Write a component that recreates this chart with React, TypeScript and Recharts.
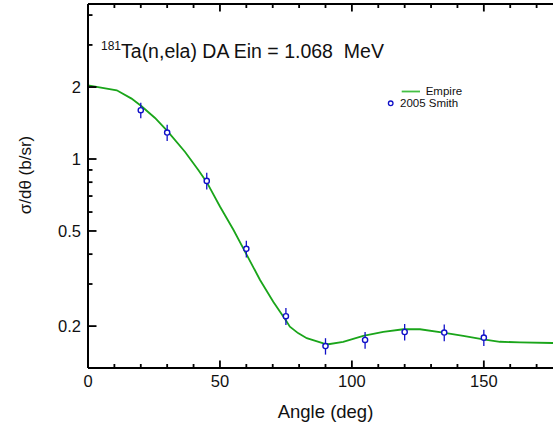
import { ComposedChart, Line, Scatter, XAxis, YAxis, ErrorBar, ReferenceLine } from "recharts"

// Empire calculation
const empireAngle = [0, 10.9, 16.5, 20.3, 25.4, 30.2, 36.8, 41.8, 45, 50, 55.1, 59.8, 65.2, 70.2, 74.9, 76.5, 79.6, 82.9, 89.2, 91.1, 96.7, 104.3, 111.9, 119.5, 125.8, 134.6, 142.2, 149.8, 156.1, 163.7, 176, 180]
const empireXs = [2.034, 1.938, 1.789, 1.661, 1.485, 1.305, 1.07, 0.9, 0.8, 0.633, 0.506, 0.404, 0.312, 0.253, 0.212, 0.199, 0.187, 0.178, 0.1695, 0.168, 0.172, 0.182, 0.189, 0.194, 0.194, 0.188, 0.182, 0.176, 0.172, 0.171, 0.17, 0.17]

// 2005 Smith measurements
const smithAngle = [20, 30, 45, 60, 75, 90, 105, 120, 135, 150]
const smithXs = [1.6, 1.29, 0.81, 0.421, 0.22, 0.165, 0.175, 0.189, 0.188, 0.179]
const smithErr = [0.12, 0.1, 0.065, 0.034, 0.018, 0.013, 0.014, 0.015, 0.015, 0.014]

const xTicks = [0, 10, 20, 30, 40, 50, 60, 70, 80, 90, 100, 110, 120, 130, 140, 150, 160, 170, 180]
const xLabelled = [0, 50, 100, 150]
const yTicks = [0.2, 0.3, 0.4, 0.5, 0.6, 0.7, 0.8, 0.9, 1, 2, 3, 4]
const yLabelled = [0.2, 0.5, 1, 2]
const yTop = 4.45

const empire = empireAngle.map((a, i) => ({ angle: a, value: empireXs[i] }))
const smith = smithAngle.map((a, i) => ({ angle: a, value: smithXs[i], err: smithErr[i] }))

const FONT = '"Liberation Sans", Arial, Helvetica, sans-serif'
const GREEN = "#1aa51a"
const BLUE = "#1010c8"
const INK = "#000"

function YTick(props: any) {
  const { x, y, payload } = props
  const v = payload.value
  const major = yLabelled.includes(v)
  const ax = Number(x) + 7
  const yy = Number(y)
  return (
    <g>
      <rect x={ax} y={yy - 0.9} width={major ? 8.5 : 4.5} height={1.8} fill={INK} />
      {major && (
        <text x={x} y={y} dy="0.36em" textAnchor="end" fontSize={16.5} fontFamily={FONT} fill="#111">
          {v}
        </text>
      )}
    </g>
  )
}

function XTick(props: any) {
  const { x, y, payload } = props
  const v = payload.value
  const major = xLabelled.includes(v)
  const ay = Number(y) - 7
  const len = major ? 7.5 : 4
  return (
    <g>
      <rect x={Number(x) - 0.9} y={ay - len} width={1.8} height={len} fill={INK} />
      {major && (
        <text x={x} y={y} dy="0.71em" textAnchor="middle" fontSize={16.5} fontFamily={FONT} fill="#111">
          {v}
        </text>
      )}
    </g>
  )
}

function XTopTick(props: any) {
  const { x, y, payload } = props
  const len = xLabelled.includes(payload.value) ? 7.5 : 4
  return <rect x={Number(x) - 0.9} y={Number(y)} width={1.8} height={len} fill={INK} />
}

function Dot(props: any) {
  const { cx, cy } = props
  return <circle cx={cx} cy={cy} r={2.6} fill="#fff" stroke={BLUE} strokeWidth={1.4} />
}

export default function App() {
  return (
    <div style={{ position: "fixed", top: 0, left: 0, width: 553, height: 426, overflow: "hidden", background: "#fff" }}>
      <ComposedChart width={570} height={426} margin={{ top: 0, right: 7, bottom: 0, left: 0 }}>
        <XAxis
          xAxisId="b"
          dataKey="angle"
          type="number"
          domain={[0, 180]}
          ticks={xTicks}
          interval={0}
          height={58}
          tickSize={0}
          tickMargin={7}
          tickLine={false}
          tick={<XTick />}
          axisLine={{ stroke: INK, strokeWidth: 2 }}
          label={{ value: "Angle (deg)", position: "insideBottom", offset: 8, fontSize: 18.5, fontFamily: FONT, fill: "#111" }}
        />
        <XAxis
          xAxisId="t"
          orientation="top"
          dataKey="angle"
          type="number"
          domain={[0, 180]}
          ticks={xTicks}
          interval={0}
          height={4}
          tickSize={0}
          tickMargin={0}
          tickLine={false}
          tick={<XTopTick />}
          axisLine={{ stroke: INK, strokeWidth: 2 }}
        />
        <YAxis
          dataKey="value"
          type="number"
          scale="log"
          domain={[0.1336, yTop]}
          allowDataOverflow
          ticks={yTicks}
          interval={0}
          width={88}
          tickSize={0}
          tickMargin={7}
          tickLine={false}
          tick={<YTick />}
          axisLine={{ stroke: INK, strokeWidth: 2 }}
        />
        <ReferenceLine xAxisId="t" y={yTop} stroke={INK} strokeWidth={2} />
        <Line
          xAxisId="t"
          data={empire}
          dataKey="value"
          type="linear"
          stroke={GREEN}
          strokeWidth={1.8}
          dot={false}
          isAnimationActive={false}
          name="Empire"
        />
        <Scatter
          xAxisId="b"
          data={smith}
          dataKey="value"
          shape={<Dot />}
          isAnimationActive={false}
          name="2005 Smith"
        >
          <ErrorBar dataKey="err" direction="y" width={0} stroke={BLUE} strokeWidth={1.3} />
        </Scatter>
      </ComposedChart>
      <svg width={553} height={426} style={{ position: "absolute", top: 0, left: 0, pointerEvents: "none", fontFamily: FONT }}>
        <text x={101} y={58} fill="#111" style={{ whiteSpace: "pre" }}>
          <tspan fontSize={12} dy={-8}>181</tspan>
          <tspan fontSize={19.5} dy={8}>Ta(n,ela) DA Ein = 1.068  MeV</tspan>
        </text>
        <text x={25} y={175} transform="rotate(-90 25 175)" textAnchor="middle" dy="0.36em" fontSize={17} fill="#111">
          σ/dθ (b/sr)
        </text>
        <g>
          <line x1={401.7} x2={420} y1={91.5} y2={91.5} stroke="#44c044" strokeWidth={1.8} />
          <text x={425.7} y={91} dy="0.33em" fontSize={11.5} fill="#111">Empire</text>
          <circle cx={390.7} cy={103.3} r={2.3} fill="#fff" stroke={BLUE} strokeWidth={1.3} />
          <text x={400} y={103.2} dy="0.33em" fontSize={11.5} fill="#111">2005 Smith</text>
        </g>
      </svg>
    </div>
  )
}
